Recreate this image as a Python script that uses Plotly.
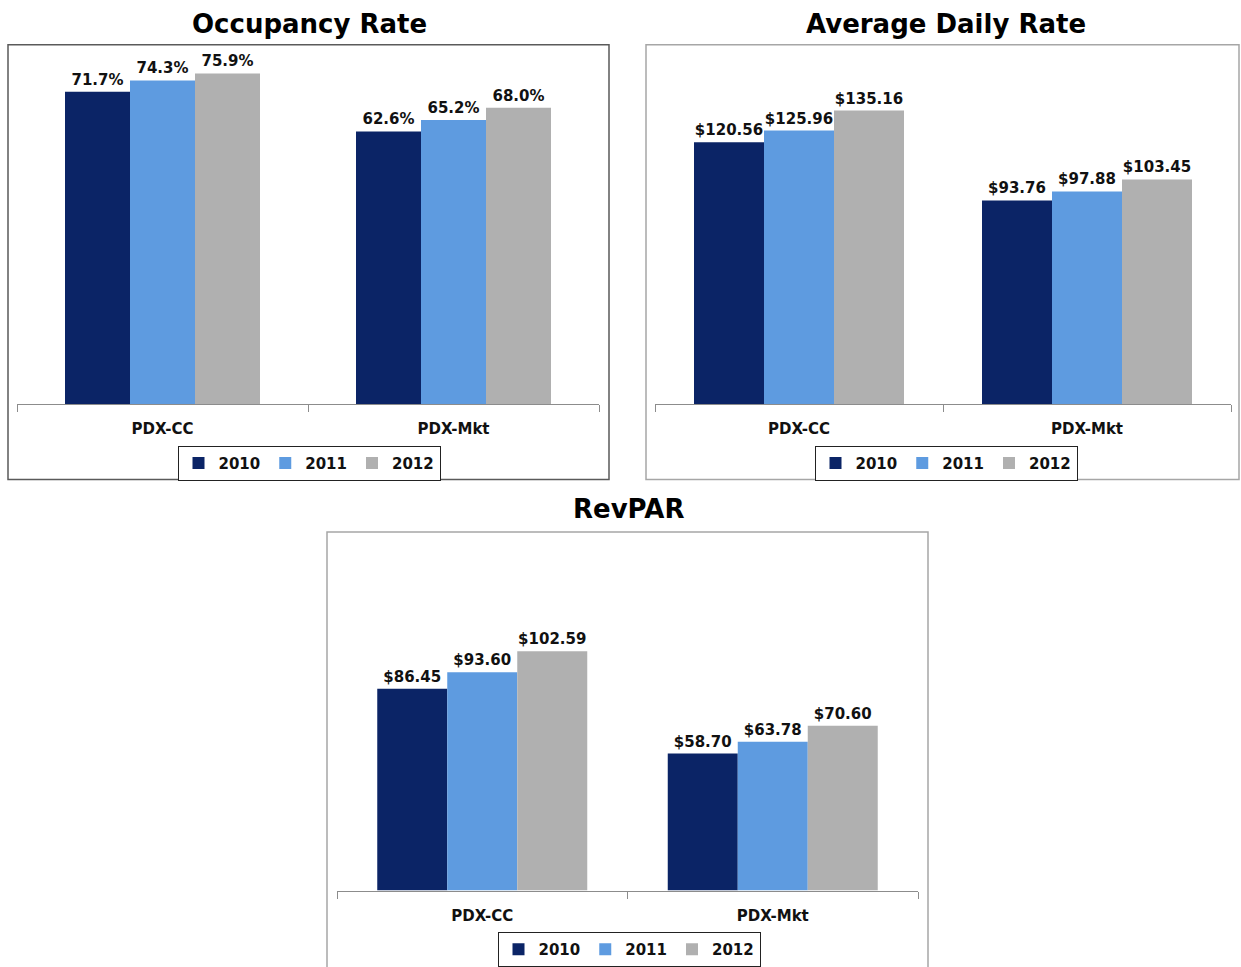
import plotly.graph_objects as go

W, H = 1241, 967

categories = ["PDX-CC", "PDX-Mkt"]
years = ["2010", "2011", "2012"]
colors = ["#0B2466", "#5E9BE0", "#B0B0B0"]

occupancy = {"2010": [71.7, 62.6], "2011": [74.3, 65.2], "2012": [75.9, 68.0]}
adr = {"2010": [120.56, 93.76], "2011": [125.96, 97.88], "2012": [135.16, 103.45]}
revpar = {"2010": [86.45, 58.70], "2011": [93.60, 63.78], "2012": [102.59, 70.60]}

titles = ["Occupancy Rate", "Average Daily Rate", "RevPAR"]

FONT = "DejaVu Sans"


def px_x(p):
    return p / W


def px_y(p):
    return 1 - p / H


panels = [
    dict(data=occupancy, fmt="{:.1f}%", xa="x", ya="y", legend="legend",
         xdom=[px_x(17), px_x(599)], ydom=[px_y(407), px_y(56)], yr=[0, 80],
         bw=65 / 291, box=(8, 45, 609, 483), boxcol="#5a5a5a",
         title_xy=(309, 24), leg_xy=(309, 449)),
    dict(data=adr, fmt="${:.2f}", xa="x2", ya="y2", legend="legend2",
         xdom=[px_x(655), px_x(1231)], ydom=[px_y(407), px_y(57)], yr=[0, 160],
         bw=70 / 288, box=(646, 45, 1239, 483), boxcol="#a6a6a6",
         title_xy=(946, 24), leg_xy=(946, 449)),
    dict(data=revpar, fmt="${:.2f}", xa="x3", ya="y3", legend="legend3",
         xdom=[px_x(337), px_x(918)], ydom=[px_y(897), px_y(615)], yr=[0, 120],
         bw=70 / 290.5, box=(327, 536, 928, 990), boxcol="#a6a6a6",
         title_xy=(628, 513), leg_xy=(629, 939)),
]

fig = go.Figure()
shapes = []
annotations = []
layout_extra = {}

for i, p in enumerate(panels):
    bw = p["bw"]
    for j, yr in enumerate(years):
        vals = p["data"][yr]
        fig.add_trace(go.Bar(
            x=categories, y=vals, name=yr,
            xaxis=p["xa"], yaxis=p["ya"], legend=p["legend"],
            width=bw, offset=(j - 1.5) * bw,
            marker=dict(color=colors[j], line=dict(width=0)),
            text=[p["fmt"].format(v) for v in vals],
            textposition="outside", cliponaxis=False,
            textfont=dict(family=FONT, size=15, color="#111111", weight="bold"),
        ))
    sfx = "" if i == 0 else str(i + 1)
    layout_extra["xaxis" + sfx] = dict(
        domain=p["xdom"], anchor="y" + sfx, type="category",
        showline=True, linecolor="#8c8c8c", linewidth=1,
        ticks="outside", tickson="boundaries", ticklen=7, tickcolor="#8c8c8c",
        tickfont=dict(family=FONT, size=15, color="#111111", weight="bold"),
        ticklabelstandoff=11, showgrid=False, zeroline=False, fixedrange=True,
    )
    layout_extra["yaxis" + sfx] = dict(
        domain=p["ydom"], anchor="x" + sfx, range=p["yr"],
        visible=False, showgrid=False, zeroline=False, fixedrange=True,
    )
    layout_extra[p["legend"]] = dict(
        orientation="h", x=px_x(p["leg_xy"][0]), y=px_y(p["leg_xy"][1]),
        xanchor="center", yanchor="top", xref="paper", yref="paper",
        bordercolor="#222222", borderwidth=1, bgcolor="white",
        font=dict(family=FONT, size=15, color="#111111", weight="bold"),
        itemwidth=30, traceorder="normal",
    )
    x0, y0, x1, y1 = p["box"]
    shapes.append(dict(type="rect", xref="paper", yref="paper",
                       x0=px_x(x0), x1=px_x(x1), y0=px_y(y1), y1=px_y(y0),
                       line=dict(color=p["boxcol"], width=1.5), layer="below"))
    tx, ty = p["title_xy"]
    annotations.append(dict(text=titles[i], xref="paper", yref="paper",
                            x=px_x(tx), y=px_y(ty), xanchor="center", yanchor="middle",
                            showarrow=False,
                            font=dict(family=FONT, size=26, color="#000000", weight="bold")))

fig.update_layout(
    width=W, height=H, margin=dict(l=0, r=0, t=0, b=0),
    paper_bgcolor="white", plot_bgcolor="rgba(0,0,0,0)",
    barmode="overlay", shapes=shapes, annotations=annotations,
    **layout_extra,
)

fig.write_html("out.html", config={"displayModeBar": False})
